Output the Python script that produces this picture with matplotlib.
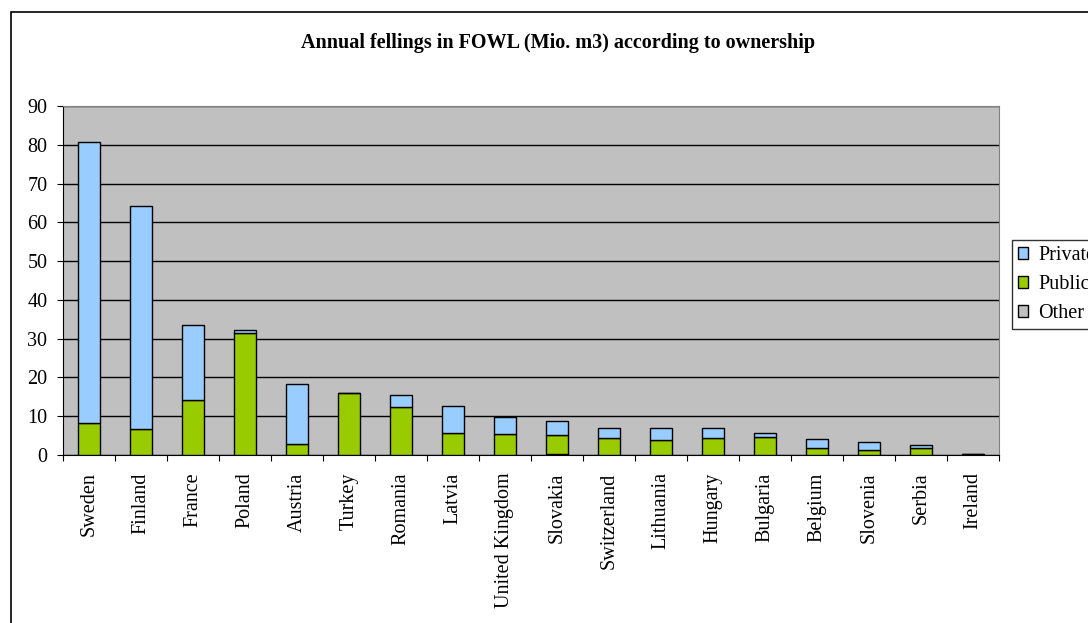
import numpy as np
import matplotlib.pyplot as plt
from matplotlib.patches import Rectangle

# data (Mio. m3)
countries = ['Sweden', 'Finland', 'France', 'Poland', 'Austria', 'Turkey', 'Romania',
             'Latvia', 'United Kingdom', 'Slovakia', 'Switzerland', 'Lithuania',
             'Hungary', 'Bulgaria', 'Belgium', 'Slovenia', 'Serbia', 'Ireland']
other = [0, 0, 0, 0, 0, 0, 0, 0, 0, 0.3, 0, 0, 0, 0, 0, 0, 0, 0]
public = [8.3, 6.7, 14.1, 31.4, 2.9, 16.0, 12.4, 5.7, 5.3, 4.9, 4.5, 3.9, 4.5, 4.6, 1.8, 1.3, 1.8, 0.3]
private = [72.5, 57.5, 19.3, 0.9, 15.5, 0.0, 3.0, 7.0, 4.4, 3.5, 2.4, 3.0, 2.4, 1.1, 2.4, 2.0, 0.8, 0.0]
yticks = [0, 10, 20, 30, 40, 50, 60, 70, 80, 90]

plt.rcParams['font.family'] = ['Liberation Serif', 'DejaVu Serif']
FS = 14.5

W, H = 1088, 623
fig = plt.figure(figsize=(W / 100, H / 100), dpi=100)

# outer chart frame (cut off at right and bottom like the original)
fig.patches.append(Rectangle((11 / W, -0.05), 1.2, 1 - 12 / H + 0.05, transform=fig.transFigure,
                             fill=False, edgecolor='black', linewidth=1.2))

ax = fig.add_axes([63 / W, 1 - 455 / H, (999 - 63) / W, (455 - 106) / H])
ax.set_facecolor('#C0C0C0')

x = np.arange(len(countries))
bw = 0.42
other = np.array(other)
public = np.array(public)
private = np.array(private)
ax.bar(x, other, bw, color='#C0C0C0', edgecolor='black', linewidth=1, label='Other', zorder=3)
ax.bar(x, public, bw, bottom=other, color='#99CC00', edgecolor='black', linewidth=1,
       label='Public', zorder=3)
ax.bar(x, private, bw, bottom=other + public, color='#99CCFF', edgecolor='black', linewidth=1,
       label='Private', zorder=3)

ax.set_xlim(-0.5, len(countries) - 0.5)
ax.set_ylim(0, 90)
ax.set_yticks(yticks)
ax.yaxis.grid(True, color='black', linewidth=1, zorder=1)
ax.set_axisbelow(True)
ax.tick_params(axis='y', direction='out', length=4.3, labelsize=FS, pad=7)

# Excel style: tick marks between categories, labels in the middle
ax.set_xticks(np.arange(len(countries) + 1) - 0.5)
ax.set_xticklabels([])
ax.set_xticks(x, minor=True)
ax.set_xticklabels(countries, minor=True, rotation=90, fontsize=FS)
ax.tick_params(axis='x', which='minor', length=0, pad=12.5)
ax.tick_params(axis='x', which='major', direction='out', length=4.3)

for side in ['top', 'right']:
    ax.spines[side].set_color('#808080')
ax.spines['left'].set_color('black')
ax.spines['bottom'].set_color('black')

fig.text(558 / W, 1 - 43 / H, 'Annual fellings in FOWL (Mio. m3) according to ownership',
         ha='center', va='center', fontsize=FS, fontweight='bold')

h, l = ax.get_legend_handles_labels()
leg = fig.legend(h[::-1], l[::-1], loc='upper left', bbox_to_anchor=(1012 / W, 1 - 240 / H),
                 frameon=True, fancybox=False, edgecolor='black', fontsize=FS,
                 handlelength=0.5, handleheight=0.5, handletextpad=0.5, borderpad=0.3,
                 labelspacing=0.5, borderaxespad=0)
leg.get_frame().set_linewidth(1)

fig.savefig('out.png', dpi=100)
